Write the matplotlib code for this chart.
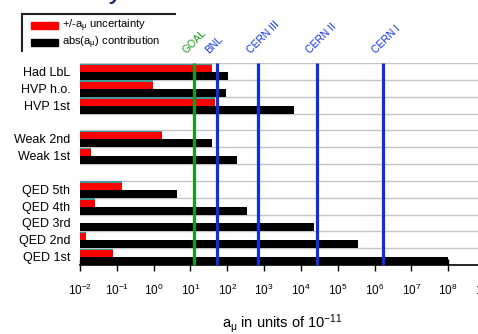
import matplotlib
matplotlib.use("Agg")
import matplotlib.pyplot as plt
from matplotlib.lines import Line2D
from matplotlib.patches import Rectangle
import numpy as np

plt.rcParams['font.family'] = ['Liberation Sans Narrow', 'Liberation Sans', 'DejaVu Sans']
plt.rcParams['mathtext.fontset'] = 'custom'
plt.rcParams['mathtext.rm'] = 'Liberation Sans'
plt.rcParams['mathtext.it'] = 'Liberation Sans'
plt.rcParams['mathtext.default'] = 'regular'

# rows from bottom to top, '' = empty spacer row
labels = ['QED 1st', 'QED 2nd', 'QED 3rd', 'QED 4th', 'QED 5th', '',
          'Weak 1st', 'Weak 2nd', '', 'HVP 1st', 'HVP h.o.', 'Had LbL']
contrib = [1.0e8, 3.5e5, 2.2e4, 3.5e2, 4.4, 0,
           185, 39, 0, 6600, 93, 105]
uncert = [0.08, 0.015, 0.01, 0.026, 0.14, 0,
          0.02, 1.7, 0, 47, 0.96, 39]

exp_names = ['GOAL', 'BNL', 'CERN III', 'CERN II', 'CERN I']
exp_values = [12.6, 52, 690, 2.8e4, 1.7e6]
exp_colors = ['#1a9a1a', '#1030e0', '#1030e0', '#1030e0', '#1030e0']

xmin, xmax = 1e-2, 1e9

W, H = 478, 334
fig = plt.figure(figsize=(W / 100, H / 100), dpi=100)
ax = fig.add_axes([80 / W, 1 - 265 / H, 405 / W, 202 / H])

y = np.arange(len(labels))
mask = np.array([l != '' for l in labels])
c = np.array(contrib, dtype=float)
u = np.array(uncert, dtype=float)

ax.barh(y[mask], c[mask] - xmin, left=xmin, height=0.47, align='edge',
        color='black', zorder=2)
ax.barh(y[mask] + 0.47, u[mask] - xmin, left=xmin, height=0.43, align='edge',
        color='#ff0000', zorder=2)
ax.barh(y[mask] + 0.88, u[mask] - xmin, left=xmin, height=0.09, align='edge',
        color='#3f9a9a', zorder=2)

for name, val, col in zip(exp_names, exp_values, exp_colors):
    ax.plot([val, val], [0, len(labels)], color=col, lw=2.3, zorder=3,
            solid_capstyle='butt', clip_on=False)
    ax.annotate(name, xy=(val, len(labels)), xycoords='data',
                xytext=(-6, 8), textcoords='offset pixels',
                rotation=45, rotation_mode='anchor', ha='left', va='bottom',
                fontsize=7.5, color=col)

ax.set_xscale('log')
ax.set_xlim(xmin, xmax)
ax.set_ylim(0, len(labels))

for k in range(1, len(labels) + 1):
    ax.axhline(k, color='#c4c4c4', lw=1, zorder=1)

ax.set_yticks(y[mask] + 0.5)
ax.set_yticklabels([l for l in labels if l], fontsize=9)
ax.tick_params(axis='y', length=0, pad=7)

ax.set_xticks([10.0 ** e for e in range(-2, 10)])
ax.set_xticklabels(['$10^{%d}$' % e for e in range(-2, 10)], fontsize=8.5)
ax.tick_params(axis='x', which='major', direction='inout', length=8, width=1, pad=9)
ax.tick_params(axis='x', which='minor', direction='out', length=3, width=0.8)

for s in ['top', 'right', 'left']:
    ax.spines[s].set_visible(False)
ax.spines['bottom'].set_linewidth(1.2)

ax.set_xlabel(r'a$_\mu$ in units of 10$^{-11}$', fontsize=10.5, labelpad=10)

# title (cut at the top edge in the original)
fig.text(35 / W, 1.0, 'New Physics?', fontsize=15, fontweight='bold',
         fontstyle='italic', color='#1a2a6c', ha='left', va='baseline')

# hand-drawn legend
def px(x0, y0):
    return x0 / W, 1 - y0 / H

fig.add_artist(Line2D([22 / W, 175 / W], [1 - 14 / H, 1 - 14 / H],
                      color='#222222', lw=1.5))
fig.add_artist(Line2D([22 / W, 22 / W], [1 - 14 / H, 1 - 51 / H],
                      color='#222222', lw=1.5))
fig.add_artist(Rectangle(px(31, 29), 27 / W, 7 / H, color='#ff0000'))
fig.add_artist(Rectangle(px(31, 46), 27 / W, 7 / H, color='black'))
fig.text(62 / W, 1 - 25.5 / H, r'+/-a$_\mu$ uncertainty', fontsize=8,
         va='center', ha='left')
fig.text(62 / W, 1 - 42.5 / H, r'abs(a$_\mu$) contribution', fontsize=8,
         va='center', ha='left')

fig.savefig('out.png', dpi=100)
